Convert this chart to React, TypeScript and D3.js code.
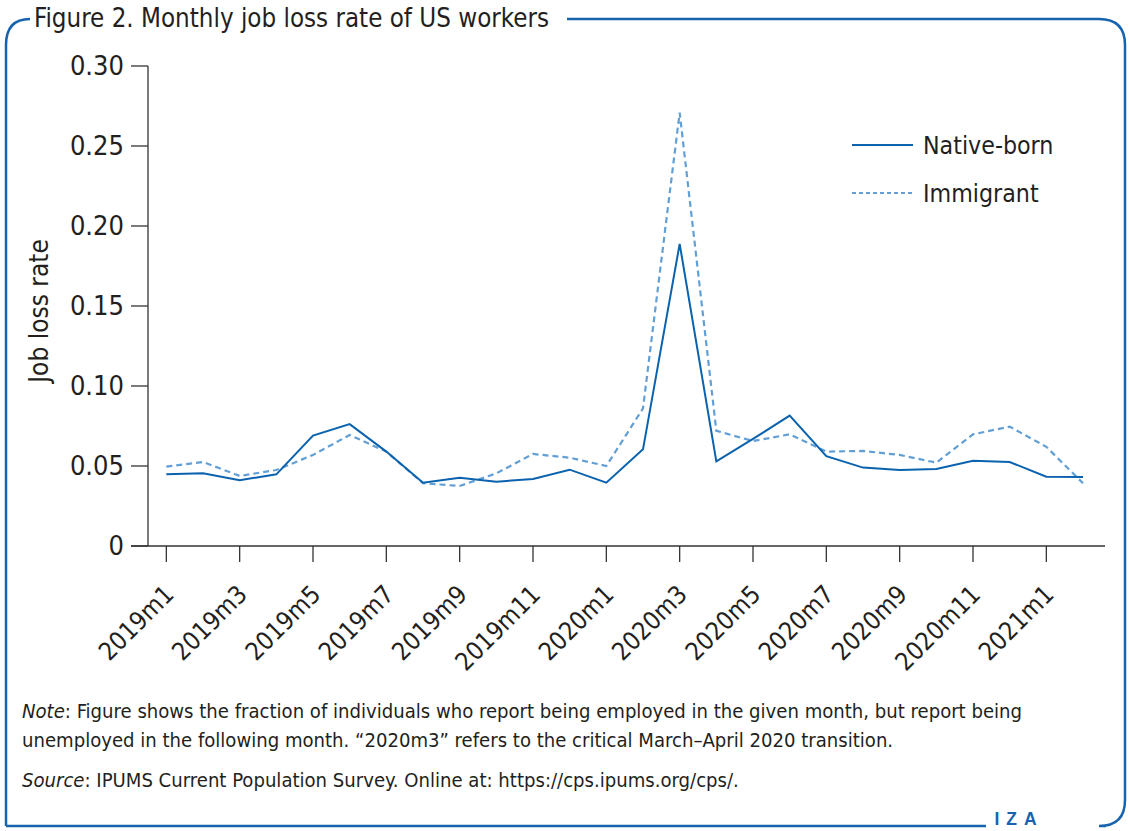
import React, { useLayoutEffect } from "react";
import * as d3 from "d3";

const months = [
  "2019m1","2019m2","2019m3","2019m4","2019m5","2019m6","2019m7","2019m8","2019m9","2019m10","2019m11","2019m12",
  "2020m1","2020m2","2020m3","2020m4","2020m5","2020m6","2020m7","2020m8","2020m9","2020m10","2020m11","2020m12",
  "2021m1","2021m2",
];
const nativeBorn = [
  0.0448, 0.0454, 0.0411, 0.0448, 0.0690, 0.0762, 0.0590, 0.0396, 0.0427, 0.0402, 0.0419, 0.0477,
  0.0396, 0.0604, 0.1888, 0.0529, 0.0669, 0.0815, 0.0562, 0.0490, 0.0475, 0.0481, 0.0533, 0.0525,
  0.0433, 0.0431,
];
const immigrant = [
  0.0496, 0.0525, 0.0438, 0.0475, 0.0569, 0.0694, 0.0590, 0.0392, 0.0375, 0.0454, 0.0575, 0.0552,
  0.0500, 0.0860, 0.2708, 0.0720, 0.0656, 0.0698, 0.0590, 0.0594, 0.0569, 0.0521, 0.0698, 0.0746,
  0.0620, 0.0392,
];
const yTicks = [0, 0.05, 0.1, 0.15, 0.2, 0.25, 0.3];
const yTickLabels = ["0", "0.05", "0.10", "0.15", "0.20", "0.25", "0.30"];
const xTickMonths = [
  "2019m1","2019m3","2019m5","2019m7","2019m9","2019m11","2020m1","2020m3","2020m5","2020m7","2020m9","2020m11","2021m1",
];
const seriesNames = ["Native-born", "Immigrant"];

const W = 1129;
const H = 831;
const FONT = "'DejaVu Sans Condensed', 'Liberation Sans Narrow', 'Liberation Sans', sans-serif";
const TEXT = "#231f20";
const BLUE = "#1763ad";
const NATIVE = "#0b62ae";
const IMM = "#629fd4";

export default function App() {
  useLayoutEffect(() => {
    document.body.style.margin = "0";
    document.body.style.overflow = "hidden";
    document.documentElement.style.overflow = "hidden";
  }, []);

  const x = d3.scaleLinear().domain([-0.5, 25.6]).range([148, 1105]);
  const y = d3.scaleLinear().domain([0, 0.3]).range([546, 66]);
  const line = d3
    .line<number>()
    .x((_, i) => x(i))
    .y((d) => y(d));

  const r = 26;
  const L = 6;
  const T = 19;
  const R = 1125;
  const B = 826;

  return (
    <svg width={W} height={H} style={{ display: "block", background: "#fff", position: "absolute", left: 0, top: 0 }}>
      {/* frame */}
      <path
        d={`M 30 ${T} Q ${L} ${T} ${L} ${T + r} L ${L} ${B}`}
        fill="none"
        stroke={BLUE}
        strokeWidth={2.5}
      />
      <path
        d={`M 567 ${T} L ${R - r} ${T} Q ${R} ${T} ${R} ${T + r} L ${R} ${B - r} Q ${R} ${B} ${R - r} ${B} L 1106 ${B}`}
        fill="none"
        stroke={BLUE}
        strokeWidth={2.5}
      />
      <path d={`M ${L} ${B} L 986 ${B}`} fill="none" stroke={BLUE} strokeWidth={2.5} />
      <text x={1019} y={825} fill={BLUE} fontFamily="'Liberation Sans', sans-serif" fontSize={17.5} fontWeight={700} textAnchor="middle" letterSpacing={7}>
        IZA
      </text>
      <text x={34} y={27} fill={TEXT} fontFamily={FONT} fontSize={25.7}>
        Figure 2. Monthly job loss rate of US workers
      </text>

      {/* axes */}
      <line x1={148} x2={148} y1={y(0.3)} y2={y(0)} stroke="#333" strokeWidth={1.3} />
      <line x1={131} x2={x(25.6)} y1={y(0)} y2={y(0)} stroke="#333" strokeWidth={1.3} />
      {yTicks.map((t, i) => (
        <g key={t}>
          <line x1={131} x2={148} y1={y(t)} y2={y(t)} stroke="#333" strokeWidth={1.3} />
          <text x={124} y={y(t)} dy="0.35em" textAnchor="end" fill={TEXT} fontFamily={FONT} fontSize={27}>
            {yTickLabels[i]}
          </text>
        </g>
      ))}
      {xTickMonths.map((m) => {
        const xi = x(months.indexOf(m));
        return (
          <g key={m}>
            <line x1={xi} x2={xi} y1={y(0)} y2={y(0) + 16} stroke="#333" strokeWidth={1.3} />
            <text
              transform={`translate(${xi + 9},${596}) rotate(-45)`}
              textAnchor="end"
              fill={TEXT}
              fontFamily={FONT}
              fontSize={25}
            >
              {m}
            </text>
          </g>
        );
      })}
      <text
        transform={`translate(48,${311}) rotate(-90)`}
        textAnchor="middle"
        fill={TEXT}
        fontFamily={FONT}
        fontSize={26}
      >
        Job loss rate
      </text>

      {/* lines */}
      <path d={line(immigrant) || ""} fill="none" stroke={IMM} strokeWidth={2.2} strokeDasharray="6 4" />
      <path d={line(nativeBorn) || ""} fill="none" stroke={NATIVE} strokeWidth={2} />

      {/* legend */}
      <line x1={852} x2={913} y1={145} y2={145} stroke={NATIVE} strokeWidth={2} />
      <text x={923} y={145} dy="0.35em" fill={TEXT} fontFamily={FONT} fontSize={24.7}>
        {seriesNames[0]}
      </text>
      <line x1={852} x2={913} y1={193} y2={193} stroke={IMM} strokeWidth={2} strokeDasharray="4 3" />
      <text x={923} y={193} dy="0.35em" fill={TEXT} fontFamily={FONT} fontSize={24.7}>
        {seriesNames[1]}
      </text>

      {/* notes */}
      <text x={22} y={718} fill={TEXT} fontFamily={FONT} fontSize={20.1}>
        <tspan fontStyle="italic">Note</tspan>: Figure shows the fraction of individuals who report being employed in the given month, but report being
      </text>
      <text x={22} y={747} fill={TEXT} fontFamily={FONT} fontSize={20.1}>
        unemployed in the following month. “2020m3” refers to the critical March–April 2020 transition.
      </text>
      <text x={22} y={787} fill={TEXT} fontFamily={FONT} fontSize={20.1}>
        <tspan fontStyle="italic">Source</tspan>: IPUMS Current Population Survey. Online at: https://cps.ipums.org/cps/.
      </text>
    </svg>
  );
}
